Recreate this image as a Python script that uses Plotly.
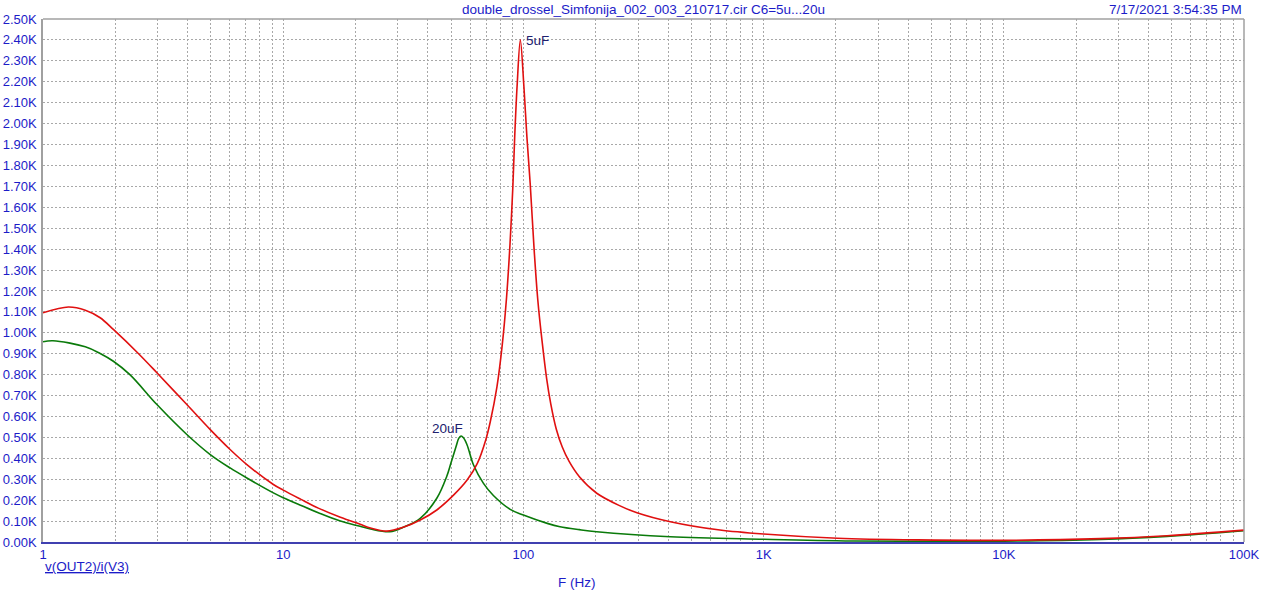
import math
import plotly.graph_objects as go

# frequency sweep (Hz) and impedance readings for each capacitor value
freq_5u = [1, 1.275, 1.5, 1.73, 1.963, 2.5, 2.98, 3.97, 4.97, 6.01, 7.06, 9.1, 10, 11.8,
           14, 17.3, 20.9, 23.1, 27.0, 31.6, 37.2, 43.6, 51.3, 58.3, 64.3, 69.7,
           72.8, 77.6, 81.6, 85.1, 87.9, 90.4, 92.0, 94.1, 97.1, 100.5, 103.4,
           106.7, 110.8, 114.8, 119.6, 125, 130, 137, 145, 155, 171, 202, 250,
           297, 409, 658, 1000, 2030, 4350, 10000, 25300, 47800, 100000]
z_5u = [1096, 1123, 1108, 1072, 1016, 900, 809, 657, 537, 442, 370, 275, 248, 205,
        162, 118, 85, 67, 52, 70, 105, 153, 225, 296, 376, 488,
        575, 742, 940, 1170, 1420, 1700, 1937, 2176, 2400, 2176, 1937,
        1715, 1400, 1157, 960, 780, 660, 540, 455, 385, 312, 233, 175,
        140, 97, 57, 38, 18, 10, 8, 16, 30, 57]

freq_20u = [1, 1.1, 1.5, 1.73, 1.963, 2.3, 2.98, 3.97, 4.97, 6.01, 7.06, 9.1, 10, 11.8,
            14, 17.3, 20.9, 23.1, 27.8, 31.6, 37.2, 43.6, 47.9, 50, 52.4, 53.8,
            55.0, 56.3, 58.3, 62.0, 68.2, 75.0, 88.1, 100, 125.7, 142, 171, 202,
            409, 1000, 2360, 10000, 25300, 47800, 100000]
z_20u = [957, 962, 933, 901, 864, 800, 657, 514, 418, 354, 306, 235, 212, 176,
         140, 100, 75, 62, 49, 70, 113, 209, 312, 380, 455, 495,
         507, 498, 464, 368, 280, 222, 156, 129, 89, 73, 59, 49,
         25, 13, 5, 4, 12, 27, 54]

x_tickvals = [m * 10 ** d for d in range(5) for m in range(1, 10)] + [100000]
x_ticktext = {1: "1", 10: "10", 100: "100", 1000: "1K", 10000: "10K", 100000: "100K"}
y_tickvals = list(range(0, 2501, 100))
y_ticktext = [f"{v / 1000:.2f}K" for v in y_tickvals]

BLUE = "#1c1cc8"
NAVY = "#20206e"
GRID = "#a8a8a8"
FONT = "Liberation Sans, Arial, sans-serif"

fig = go.Figure()
fig.add_trace(go.Scatter(x=freq_20u, y=z_20u, mode="lines", name="20uF",
                         line=dict(color="#0a7a0a", width=1.6, shape="spline", smoothing=1.0)))
fig.add_trace(go.Scatter(x=freq_5u, y=z_5u, mode="lines", name="5uF",
                         line=dict(color="#e01010", width=1.6, shape="spline", smoothing=0.9)))

fig.update_xaxes(
    type="log", range=[0, 5], automargin=False,
    tickvals=x_tickvals,
    ticktext=[x_ticktext.get(v, "") for v in x_tickvals],
    tickfont=dict(color=BLUE, size=13, family=FONT),
    showgrid=True, gridcolor=GRID, griddash="2px,2px", gridwidth=1,
    showline=True, linecolor="#4040b0", linewidth=1.5,
    ticks="", zeroline=False, ticklabelstandoff=0,
)
fig.update_yaxes(
    range=[0, 2500], automargin=False,
    tickvals=y_tickvals, ticktext=y_ticktext,
    tickfont=dict(color=BLUE, size=13, family=FONT),
    showgrid=True, gridcolor=GRID, griddash="2px,2px", gridwidth=1,
    showline=True, linecolor="#a0a0a0", linewidth=1.5,
    ticks="", zeroline=False, ticklabelstandoff=2,
)

# top and right frame edges
fig.add_shape(type="line", xref="paper", yref="paper", x0=0, x1=1, y0=1, y1=1,
              line=dict(color="#a0a0a0", width=1.5))
fig.add_shape(type="line", xref="paper", yref="paper", x0=1, x1=1, y0=0, y1=1,
              line=dict(color="#a0a0a0", width=1.5))

txt = dict(family=FONT, size=13.5)
# curve labels at each resonance peak (log axis -> annotation x in log10 units)
peak5 = z_5u.index(max(z_5u))
peak20 = z_20u.index(max(z_20u[20:]))
fig.add_annotation(x=math.log10(freq_5u[peak5]), y=z_5u[peak5], xref="x", yref="y",
                   text="5uF", showarrow=False, xanchor="left", yanchor="middle",
                   xshift=4, yshift=-1, font=dict(color=NAVY, **txt))
fig.add_annotation(x=math.log10(freq_20u[peak20]), y=z_20u[peak20], xref="x", yref="y",
                   text="20uF", showarrow=False, xanchor="right", yanchor="middle",
                   xshift=4, yshift=7, font=dict(color=NAVY, **txt))

fig.add_annotation(x=0.5, y=1, xref="paper", yref="paper",
                   text="double_drossel_Simfonija_002_003_210717.cir C6=5u...20u",
                   showarrow=False, yanchor="bottom", yshift=0,
                   font=dict(color=BLUE, **txt))
fig.add_annotation(x=1, y=1, xref="paper", yref="paper", text="7/17/2021 3:54:35 PM",
                   showarrow=False, xanchor="right", yanchor="bottom", yshift=0,
                   font=dict(color=BLUE, **txt))
fig.add_annotation(x=0, y=0, xref="paper", yref="paper", text="<u>v(OUT2)/i(V3)</u>",
                   showarrow=False, xanchor="left", yanchor="top", yshift=-15,
                   font=dict(color=BLUE, **txt))
fig.add_annotation(x=0.445, y=0, xref="paper", yref="paper", text="F (Hz)",
                   showarrow=False, xanchor="center", yanchor="top", yshift=-31,
                   font=dict(color=BLUE, **txt))

fig.update_layout(
    width=1280, height=604,
    margin=dict(l=43, r=36, t=19, b=62),
    paper_bgcolor="white", plot_bgcolor="white",
    showlegend=False,
    font=dict(family=FONT),
)

# drop the browser's default 8px body margin so the figure sits at the page corner
fig.write_html("out.html", config={"displayModeBar": False},
               post_script="document.body.style.margin = '0';")
